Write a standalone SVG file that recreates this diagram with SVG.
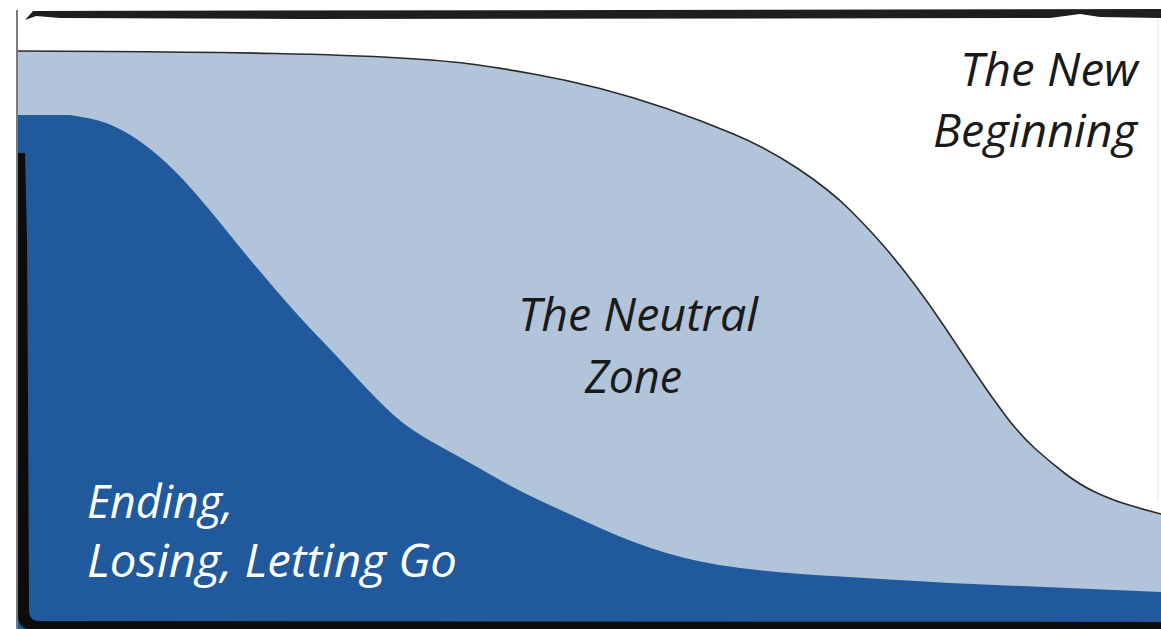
<svg xmlns="http://www.w3.org/2000/svg" width="1161" height="629" viewBox="0 0 1161 629">
<style>
.lbl{font-family:"Open Sans","Liberation Sans",sans-serif;font-style:italic;font-size:45px}
.dark{fill:#1a1a1a}
.light{fill:#ffffff}
</style>
<rect width="1161" height="629" fill="#ffffff"/>
<g id="neutral-zone">
<path d="M17,51 L108.5,51.5 Q200,52 275,53.5 Q350,55 400,58 Q450,61 475,64.5 Q500,68 533.5,74 Q567,80 600,88.5 Q633,97 666.5,108.5 Q700,120 733.5,134 Q767,148 798.5,169 Q830,190 850,210 Q870,230 885,247.5 Q900,265 915,285 Q930,305 945,327.5 Q960,350 975,372.5 Q990,395 1005,415 Q1020,435 1035,448.5 Q1050,462 1065,473.5 Q1080,485 1095,492 Q1110,499 1122.5,503 Q1135,507 1148,510.5 L1161,514 L1161,629 L17,629 Z" fill="#b1c4d9"/>
<path d="M17,51 L108.5,51.5 Q200,52 275,53.5 Q350,55 400,58 Q450,61 475,64.5 Q500,68 533.5,74 Q567,80 600,88.5 Q633,97 666.5,108.5 Q700,120 733.5,134 Q767,148 798.5,169 Q830,190 850,210 Q870,230 885,247.5 Q900,265 915,285 Q930,305 945,327.5 Q960,350 975,372.5 Q990,395 1005,415 Q1020,435 1035,448.5 Q1050,462 1065,473.5 Q1080,485 1095,492 Q1110,499 1122.5,503 Q1135,507 1148,510.5 L1161,514" fill="none" stroke="#2a2a2a" stroke-width="1.6"/>
<text class="lbl dark" x="518" y="331" textLength="240" lengthAdjust="spacingAndGlyphs">The Neutral</text>
<text class="lbl dark" x="585" y="393" textLength="97" lengthAdjust="spacingAndGlyphs">Zone</text>
</g>
<g id="ending">
<path d="M17,115 L70,115 L87.5,118 Q105,121 122.5,130.5 Q140,140 157.5,155 Q175,170 192.5,190 Q210,210 230,235 Q250,260 275,289 Q300,318 316.5,335 Q333,352 355,376 Q377,400 393.5,415 Q410,430 438.5,445.5 Q467,461 492,475.5 Q517,490 542,501.5 Q567,513 600,528 Q633,543 666.5,553 Q700,563 740,568 Q780,573 840,576.5 Q900,580 950,583 L1161,592 L1161,629 L17,629 Z" fill="#205a9d"/>
<text class="lbl light" x="87" y="518" textLength="146" lengthAdjust="spacingAndGlyphs">Ending,</text>
<text class="lbl light" x="87" y="577" textLength="370" lengthAdjust="spacingAndGlyphs">Losing, Letting Go</text>
</g>
<g id="new-beginning">
<text class="lbl dark" x="960" y="86" textLength="178" lengthAdjust="spacingAndGlyphs">The New</text>
<text class="lbl dark" x="933" y="147" textLength="204" lengthAdjust="spacingAndGlyphs">Beginning</text>
</g>
<g id="frame">
<line x1="17" y1="10" x2="17" y2="629" stroke="#7a7a7a" stroke-width="2"/>
<line x1="1158" y1="18" x2="1158" y2="500" stroke="#e2e2e2" stroke-width="1"/>
<path d="M25,20 L33,11 L1161,9 L1161,18 L1100,17 L1080,14 L1050,18 L300,19 L60,18 L36,16 Z" fill="#1e1e1e"/>
<path d="M18,153 L25,153 L27,240 L28,400 L29,610 Q29,621 39,621 L1161,622 L1161,629 L30,629 Q18,629 18,615 Z" fill="#0c0c0c"/>
</g>
</svg>
